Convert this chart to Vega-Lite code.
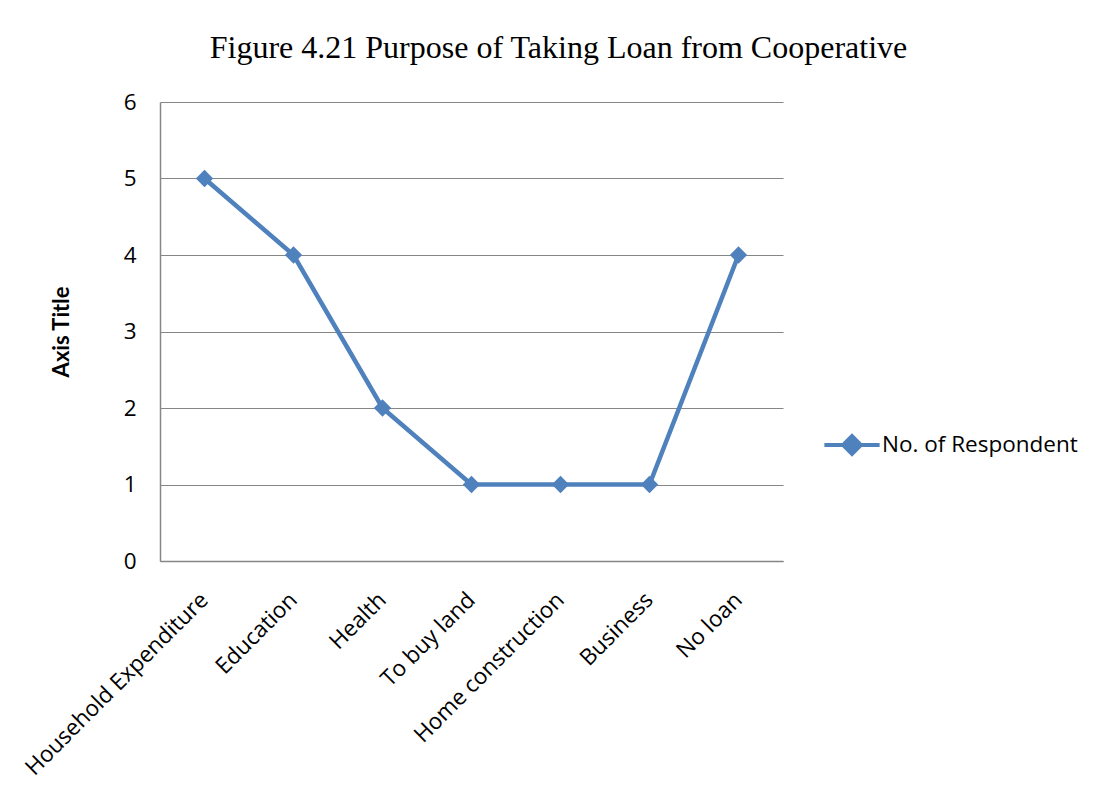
{
  "$schema": "https://vega.github.io/schema/vega-lite/v6.json",
  "autosize": {"type": "none"},
  "width": 623,
  "height": 459,
  "padding": {"left": 160, "top": 102, "right": 317, "bottom": 248},
  "background": "white",
  "title": {
    "text": "Figure 4.21 Purpose of Taking Loan from Cooperative",
    "font": "Liberation Serif",
    "fontSize": 32,
    "fontWeight": "normal",
    "color": "#000000",
    "anchor": "middle",
    "dx": 87,
    "offset": 26
  },
  "data": {
    "values": [
      {"purpose": "Household Expenditure", "value": 5, "series": "No. of Respondent"},
      {"purpose": "Education", "value": 4, "series": "No. of Respondent"},
      {"purpose": "Health", "value": 2, "series": "No. of Respondent"},
      {"purpose": "To buy land", "value": 1, "series": "No. of Respondent"},
      {"purpose": "Home construction", "value": 1, "series": "No. of Respondent"},
      {"purpose": "Business", "value": 1, "series": "No. of Respondent"},
      {"purpose": "No loan", "value": 4, "series": "No. of Respondent"}
    ]
  },
  "encoding": {
    "x": {
      "field": "purpose",
      "type": "nominal",
      "sort": null,
      "scale": {"type": "band", "paddingInner": 0, "paddingOuter": 0},
      "axis": {
        "title": null,
        "labelAngle": -45,
        "labelAlign": "right",
        "labelBaseline": "middle",
        "labelFont": "Open Sans",
        "labelFontSize": 22.5,
        "labelColor": "#000000",
        "labelPadding": 35,
        "ticks": false,
        "domainColor": "#868686",
        "domainWidth": 1.5,
        "grid": false,
        "labelLimit": 400
      }
    },
    "y": {
      "field": "value",
      "type": "quantitative",
      "scale": {"domain": [0, 6]},
      "axis": {
        "title": "Axis Title",
        "titleFont": "Lato",
        "titleFontSize": 22,
        "titleFontWeight": "bold",
        "titleColor": "#000000",
        "titlePadding": 50,
        "values": [0, 1, 2, 3, 4, 5, 6],
        "labelFont": "Open Sans",
        "labelFontSize": 22.5,
        "labelColor": "#000000",
        "labelPadding": 24,
        "ticks": false,
        "domainColor": "#868686",
        "domainWidth": 1.5,
        "gridColor": "#868686",
        "gridWidth": 1.2
      }
    }
  },
  "layer": [
    {
      "mark": {"type": "line", "strokeWidth": 4.5},
      "encoding": {
        "color": {
          "field": "series",
          "type": "nominal",
          "scale": {"range": ["#4F81BD"]},
          "legend": {
            "title": null,
            "orient": "none",
            "legendX": 662,
            "legendY": 313,
            "symbolType": "M-1,0L1,0M-0.32,0L0,-0.32L0.32,0L0,0.32Z",
            "symbolSize": 3050,
            "symbolStrokeWidth": 4,
            "symbolStrokeColor": "#4F81BD",
            "symbolFillColor": "#4F81BD",
            "labelFont": "Open Sans",
            "labelFontSize": 22.5,
            "labelColor": "#000000",
            "labelOffset": 0,
            "labelLimit": 400,
            "encode": {
              "symbols": {
                "update": {
                  "fill": {"value": "#4F81BD"},
                  "stroke": {"value": "#4F81BD"},
                  "strokeWidth": {"value": 4},
                  "opacity": {"value": 1}
                }
              }
            }
          }
        }
      }
    },
    {
      "mark": {"type": "point", "shape": "diamond", "filled": true, "size": 300, "color": "#4F81BD", "opacity": 1}
    }
  ],
  "config": {
    "view": {"stroke": null}
  }
}
